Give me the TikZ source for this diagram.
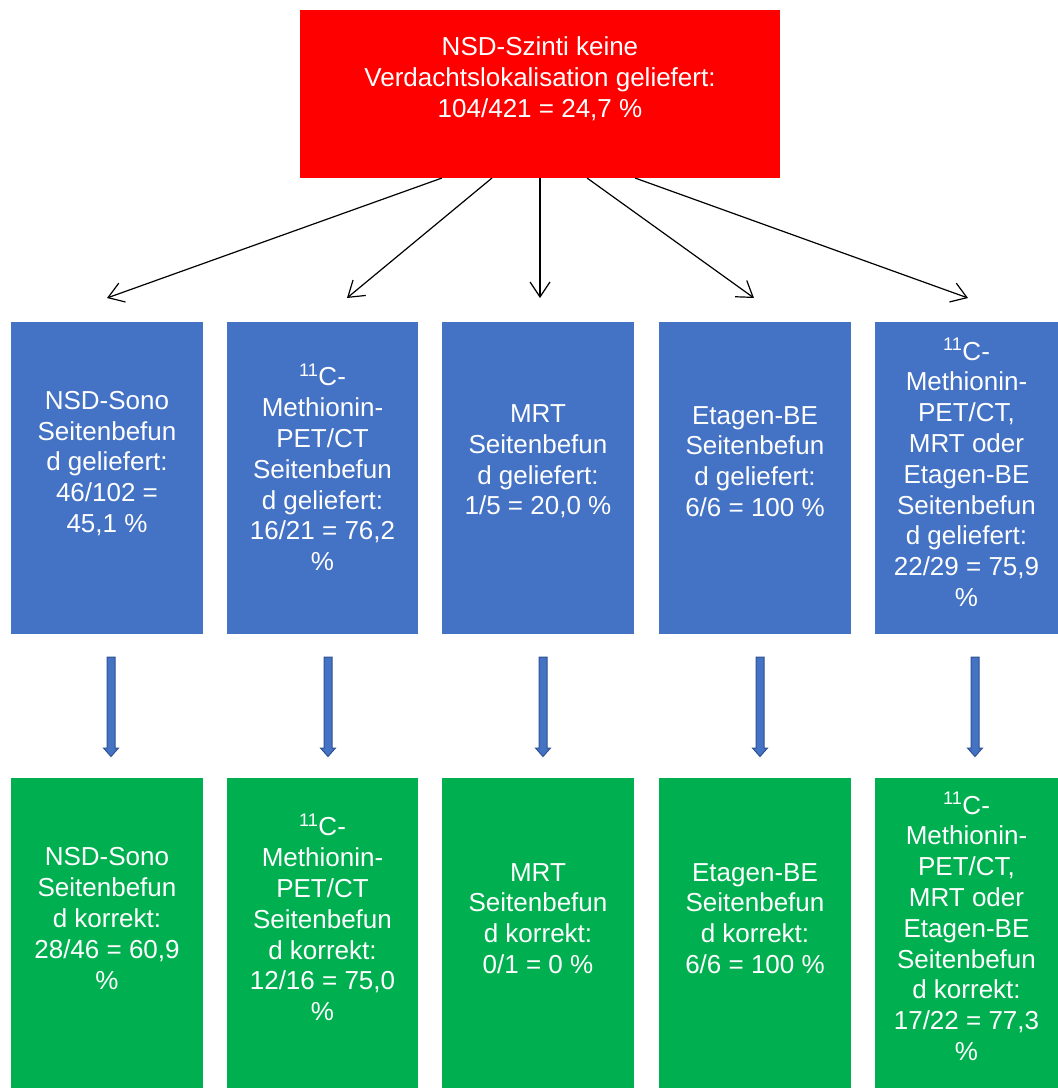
\documentclass[tikz,border=0pt]{standalone}
\usepackage{fontspec}
\setmainfont{Liberation Sans}
\usetikzlibrary{arrows.meta,calc}
\definecolor{boxblue}{HTML}{4472C4}
\definecolor{boxgreen}{HTML}{00B050}
\definecolor{boxred}{HTML}{FF0000}
\definecolor{arrowline}{HTML}{2F528F}
\tikzset{
  box/.style={rectangle, inner sep=0pt, outer sep=0pt, draw=none, minimum width=#1},
  redbox/.style={box=480pt, fill=boxred, minimum height=168pt},
  bluebox/.style={box=#1, fill=boxblue, minimum height=312pt},
  greenbox/.style={box=#1, fill=boxgreen, minimum height=310pt},
  txt/.style={text=white, align=center, inner sep=0pt, font=\fontsize{26}{30.8}\selectfont},
  thinarrow/.style={draw=black, line width=1.2pt, -{Straight Barb[length=15pt,width=20pt,line width=1.2pt]}},
  blockarrow/.style={fill=boxblue, draw=arrowline, line width=1pt, line join=miter},
}
\begin{document}
\begin{tikzpicture}[x=1pt,y=-1pt]
\useasboundingbox (0,0) rectangle (1058,1088);
% top red box
\node[redbox] (r) at (540,94) {};
\node[txt] (rt) at (540,78.5) {NSD-Szinti keine\\Verdachtslokalisation geliefert:\\104/421 = 24,7 \%};
% blue boxes
\node[bluebox=192pt] (b1) at (107,478) {};
\node[bluebox=191pt] (b2) at (322.5,478) {};
\node[bluebox=192pt] (b3) at (538,478) {};
\node[bluebox=192pt] (b4) at (755,478) {};
\node[bluebox=183pt] (b5) at (966.5,478) {};
\node[txt] (b1t) at (107,463.5) {NSD-Sono\\Seitenbefun\\d geliefert:\\46/102 =\\45,1 \%};
\node[txt] (b2t) at (322.5,467.5) {\textsuperscript{11}C-\\Methionin-\\PET/CT\\Seitenbefun\\d geliefert:\\16/21 = 76,2\\\%};
\node[txt] (b3t) at (538,461.5) {MRT\\Seitenbefun\\d geliefert:\\1/5 = 20,0 \%};
\node[txt] (b4t) at (755,461.5) {Etagen-BE\\Seitenbefun\\d geliefert:\\6/6 = 100 \%};
\node[txt] (b5t) at (966.5,472.5) {\textsuperscript{11}C-\\Methionin-\\PET/CT,\\MRT oder\\Etagen-BE\\Seitenbefun\\d geliefert:\\22/29 = 75,9\\\%};
% green boxes
\node[greenbox=192pt] (g1) at (107,933) {};
\node[greenbox=191pt] (g2) at (322.5,933) {};
\node[greenbox=192pt] (g3) at (538,933) {};
\node[greenbox=192pt] (g4) at (755,933) {};
\node[greenbox=183pt] (g5) at (966.5,933) {};
\node[txt] (g1t) at (107,918.5) {NSD-Sono\\Seitenbefun\\d korrekt:\\28/46 = 60,9\\\%};
\node[txt] (g2t) at (322.5,917.5) {\textsuperscript{11}C-\\Methionin-\\PET/CT\\Seitenbefun\\d korrekt:\\12/16 = 75,0\\\%};
\node[txt] (g3t) at (538,918.5) {MRT\\Seitenbefun\\d korrekt:\\0/1 = 0 \%};
\node[txt] (g4t) at (755,918.5) {Etagen-BE\\Seitenbefun\\d korrekt:\\6/6 = 100 \%};
\node[txt] (g5t) at (966.5,926.5) {\textsuperscript{11}C-\\Methionin-\\PET/CT,\\MRT oder\\Etagen-BE\\Seitenbefun\\d korrekt:\\17/22 = 77,3\\\%};
% thin arrows from red box
\draw[thinarrow] ($(r.south)+(-98,0)$) -- ($(b1.north)+(0,-24)$);
\draw[thinarrow] ($(r.south)+(-48,0)$) -- ($(b2.north)+(24.5,-24)$);
\draw[thinarrow] ($(r.south)+(0,0)$) -- ($(b3.north)+(2,-24)$);
\draw[thinarrow] ($(r.south)+(47,0)$) -- ($(b4.north)+(-1,-24)$);
\draw[thinarrow] ($(r.south)+(95,0)$) -- ($(b5.north)+(1.5,-24)$);
% block arrows blue -> green
\foreach \b/\dx in {b1/4, b2/5.5, b3/5, b4/5, b5/8.5}{
  \draw[blockarrow] ($(\b.south)+(\dx,0)+(-4,23)$) -- ++(8,0) -- ++(0,91) -- ++(3.5,0)
    -- ++(-7.5,8.5) -- ++(-7.5,-8.5) -- ++(3.5,0) -- cycle;
}
\end{tikzpicture}
\end{document}
